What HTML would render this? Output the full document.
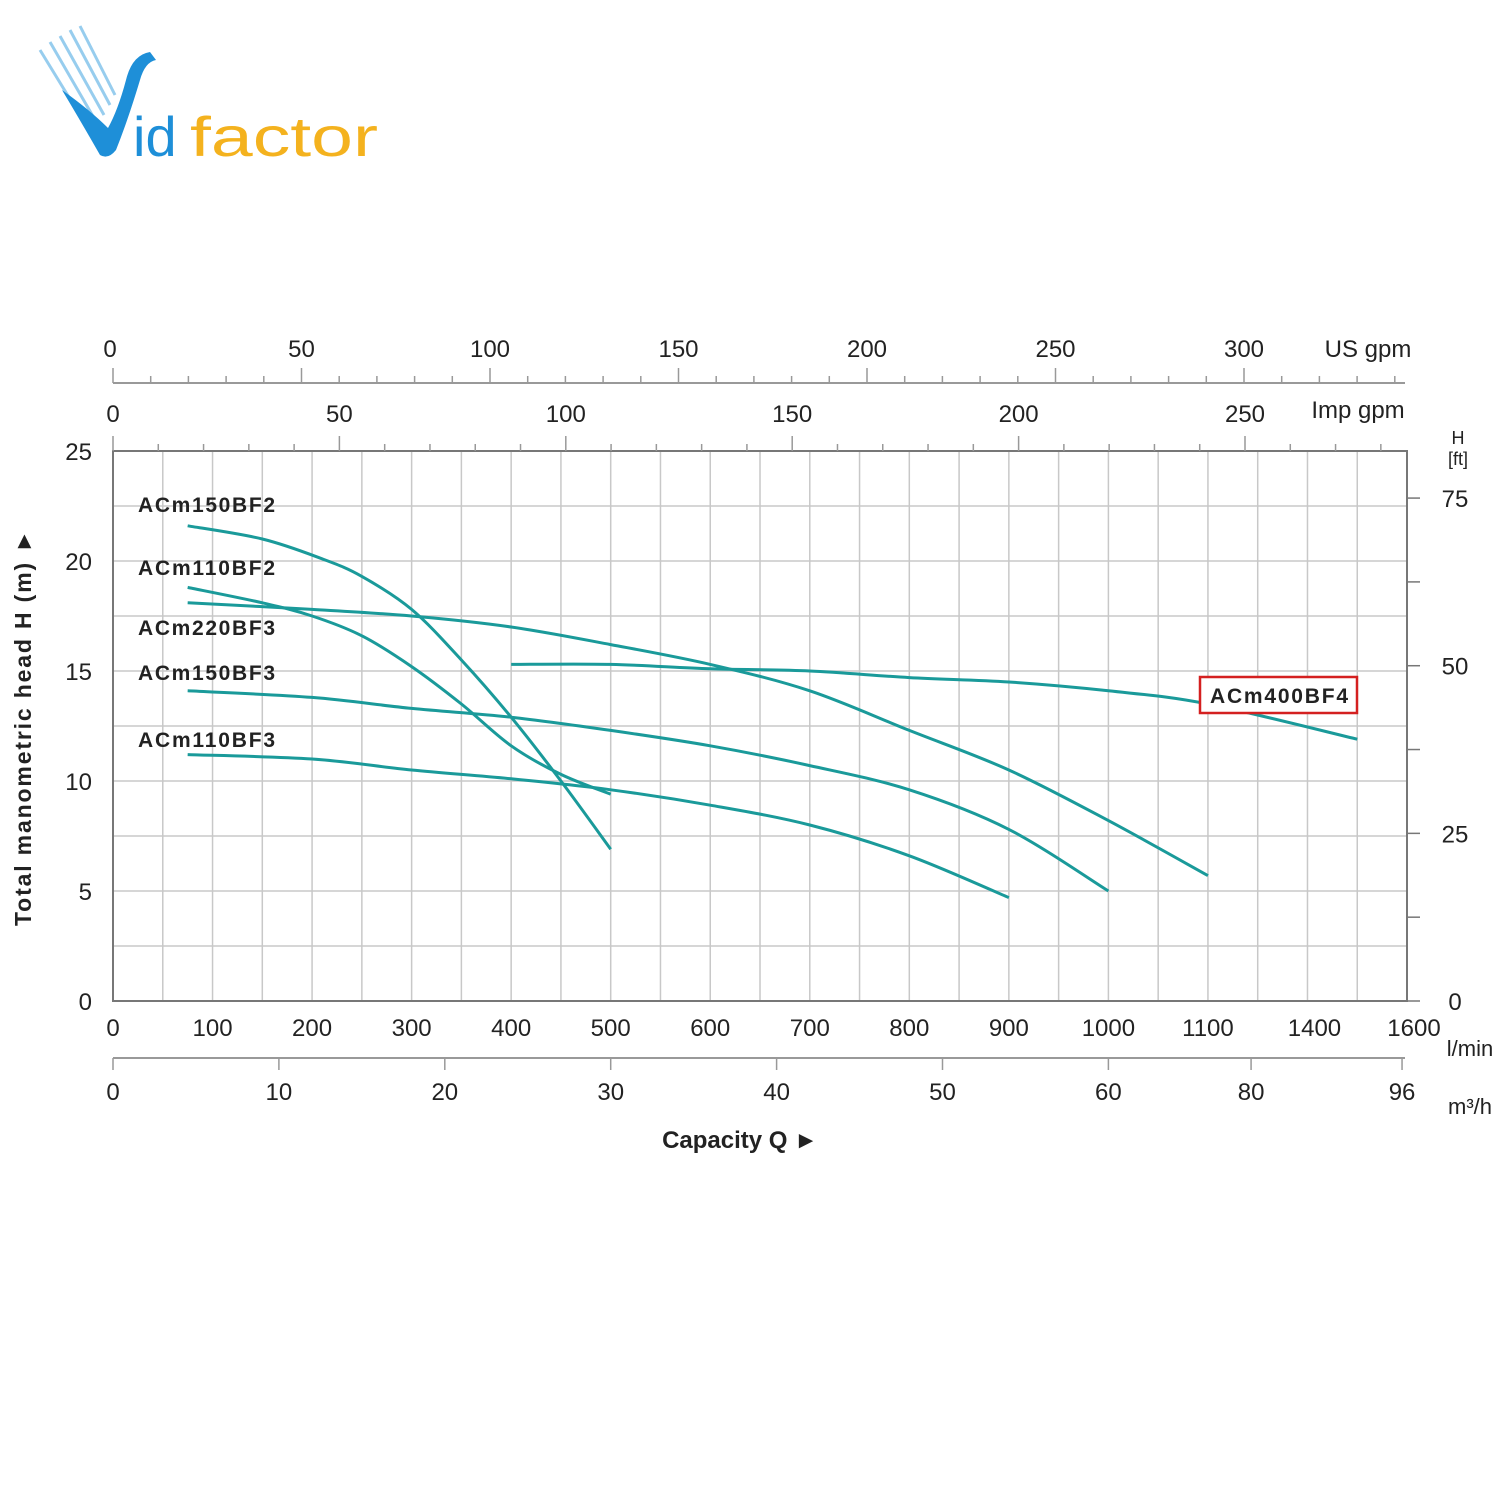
<!DOCTYPE html>
<html><head><meta charset="utf-8"><style>
body{margin:0;background:#fff;width:1500px;height:1500px;overflow:hidden;font-family:"Liberation Sans",Arial,sans-serif}
svg text{font-family:"Liberation Sans",Arial,sans-serif}
</style></head><body>
<svg id="c" width="1500" height="1500" viewBox="0 0 1500 1500">
<g>
<g stroke="#6cb8e8" stroke-width="3" opacity="0.7">
<line x1="40" y1="50" x2="92" y2="135"/><line x1="50" y1="42" x2="98" y2="125"/><line x1="60" y1="36" x2="104" y2="115"/><line x1="70" y1="30" x2="110" y2="105"/><line x1="80" y1="26" x2="115" y2="95"/>
</g>
<path d="M62 90 Q80 120 100 155 Q108 160 116 150 Q128 120 140 80 Q145 62 156 60 L150 52 Q132 55 126 80 Q118 110 108 128 Q90 110 62 90 Z" fill="#1e8fd8"/>
<text x="133" y="156" font-size="56" fill="#1e8fd8">id</text>
<text x="190" y="156" font-size="56" fill="#f4b21e" textLength="188" lengthAdjust="spacingAndGlyphs">factor</text>
</g>
</svg>
<script>
const qTicks=[0,100,200,300,400,500,600,700,800,900,1000,1100,1207,1307];
const qTickLabels=["0","100","200","300","400","500","600","700","800","900","1000","1100","1400","1600"];
const hTicks=[0,5,10,15,20,25];
const ftTicks=[0,25,50,75];
const usTicks=[0,50,100,150,200,250,300];
const impTicks=[0,50,100,150,200,250];
const m3Ticks=[0,10,20,30,40,50,60,80,96];
const m3Pos=[0,10,20,30,40,50,60,68.6,77.7];
const names=["ACm150BF2","ACm110BF2","ACm220BF3","ACm150BF3","ACm110BF3","ACm400BF4"];
const sQ150BF2=[75,150,210,250,300,350,400,450,500];
const sH150BF2=[21.6,21.0,20.1,19.3,17.8,15.5,12.9,10.0,6.9];
const sQ110BF2=[75,150,200,250,300,350,400,450,500];
const sH110BF2=[18.8,18.1,17.5,16.6,15.2,13.5,11.6,10.3,9.4];
const sQ220BF3=[75,200,300,400,500,600,700,800,900,1000,1100];
const sH220BF3=[18.1,17.8,17.5,17.0,16.2,15.3,14.1,12.3,10.5,8.2,5.7];
const sQ150BF3=[75,200,300,400,500,600,700,800,900,1000];
const sH150BF3=[14.1,13.8,13.3,12.9,12.3,11.6,10.7,9.6,7.8,5.0];
const sQ110BF3=[75,200,300,400,500,600,700,800,900];
const sH110BF3=[11.2,11.0,10.5,10.1,9.6,8.9,8.0,6.6,4.7];
const sQ400BF4=[400,500,600,700,800,900,1000,1100,1250];
const sH400BF4=[15.3,15.3,15.1,15.0,14.7,14.5,14.1,13.5,11.9];
const X=q=>113+q*0.9954, Y=h=>1001-h*22, YF=f=>1001-f*0.3048*22;
const US=g=>113+g*3.77, IMP=g=>113+g*4.528, M3=v=>113+v*16.59;
const svg=document.getElementById('c');const NS='http://www.w3.org/2000/svg';
function el(t,a,p){const e=document.createElementNS(NS,t);for(const k in a)e.setAttribute(k,a[k]);(p||svg).appendChild(e);return e;}
function txt(x,y,s,sz,a,nm){const e=el('text',{x:x,y:y,'font-size':sz,'text-anchor':a||'middle',fill:'#222'});e.textContent=s;

return e;}
const g=el('g',{});


for(let q=50;q<1300;q+=50)el('line',{x1:X(q),x2:X(q),y1:451,y2:1001,stroke:'#c8c8c8','stroke-width':1.5},g);
for(let h=2.5;h<25;h+=2.5)el('line',{x1:113,x2:1407,y1:Y(h),y2:Y(h),stroke:'#c8c8c8','stroke-width':1.5},g);
const fr=el('rect',{x:113,y:451,width:1294,height:550,fill:'none',stroke:'#777','stroke-width':2});


hTicks.forEach(h=>txt(92,Y(h)+9,String(h),24,'end','y-tick-label'));
qTicks.forEach((q,i)=>txt(X(q),1036,qTickLabels[i],24,'middle','x-tick-label'));
txt(1470,1056,'l/min',22,'middle','x-unit-lmin');
for(let f=0;f<=80;f+=12.5)el('line',{x1:1407,x2:1420,y1:YF(f),y2:YF(f),stroke:'#777','stroke-width':1.5});
ftTicks.forEach(f=>txt(1455,YF(f)+9,String(f),24,'middle','ft-tick-label'));
txt(1458,444,'H',18,'middle','ft-axis-title');txt(1458,465,'[ft]',18,'middle','ft-axis-unit');
el('line',{x1:113,x2:1405,y1:383,y2:383,stroke:'#999','stroke-width':2});
for(let u=0;u<=340;u+=10)el('line',{x1:US(u),x2:US(u),y1:383,y2:u%50==0?368:376,stroke:'#999','stroke-width':1.5});
usTicks.forEach(u=>txt(US(u)-(u==0?3:0),357,String(u),24,'middle','us-gpm-tick-label'));
txt(1368,357,'US gpm',24,'middle','us-gpm-unit');
for(let u=0;u<=285;u+=10)el('line',{x1:IMP(u),x2:IMP(u),y1:451,y2:u%50==0?436:444,stroke:'#999','stroke-width':1.5});
impTicks.forEach(u=>txt(IMP(u),422,String(u),24,'middle','imp-gpm-tick-label'));
txt(1358,418,'Imp gpm',24,'middle','imp-gpm-unit');
el('line',{x1:113,x2:1405,y1:1058,y2:1058,stroke:'#999','stroke-width':2});
m3Pos.forEach(v=>el('line',{x1:M3(v),x2:M3(v),y1:1058,y2:1070,stroke:'#999','stroke-width':1.5}));
m3Ticks.forEach((v,i)=>txt(M3(m3Pos[i]),1100,String(v),24,'middle','m3h-tick-label'));
txt(1470,1114,'m³/h',22,'middle','x-unit-m3h');
const xt=txt(740,1148,'Capacity Q    ►',24,'middle','x-axis-title');xt.setAttribute('font-weight','bold');
const yt=txt(0,0,'Total manometric head H (m)  ►',23,'middle','y-axis-title');yt.setAttribute('font-weight','bold');yt.setAttribute('transform','translate(31,728) rotate(-90)');yt.setAttribute('textLength','396');
const series=[[sQ150BF2,sH150BF2],[sQ110BF2,sH110BF2],[sQ220BF3,sH220BF3],[sQ150BF3,sH150BF3],[sQ110BF3,sH110BF3],[sQ400BF4,sH400BF4]];
function path(qs,hs){const p=qs.map((q,i)=>[X(q),Y(hs[i])]);let d='M'+p[0];for(let i=0;i<p.length-1;i++){const p0=p[i-1]||p[i],p1=p[i],p2=p[i+1],p3=p[i+2]||p2;
d+=' C'+(p1[0]+(p2[0]-p0[0])/6)+','+(p1[1]+(p2[1]-p0[1])/6)+' '+(p2[0]-(p3[0]-p1[0])/6)+','+(p2[1]-(p3[1]-p1[1])/6)+' '+p2;}return d;}
series.forEach((s,i)=>{const e=el('path',{d:path(s[0],s[1]),fill:'none',stroke:'#1a9a9a','stroke-width':3});

});
const ly=[505,568,628,673,740];
for(let i=0;i<5;i++){const t=txt(138,ly[i]+7,names[i],21,'start','curve-label');t.setAttribute('font-weight','bold');t.setAttribute('textLength','137');}
const bx=el('rect',{x:1200,y:677,width:157,height:36,fill:'#fff',stroke:'#d42020','stroke-width':2.5});


const t6=txt(1279,703,names[5],21,'middle','curve-label-acm400bf4');t6.setAttribute('font-weight','bold');t6.setAttribute('textLength','138');
</script>
</body></html>
